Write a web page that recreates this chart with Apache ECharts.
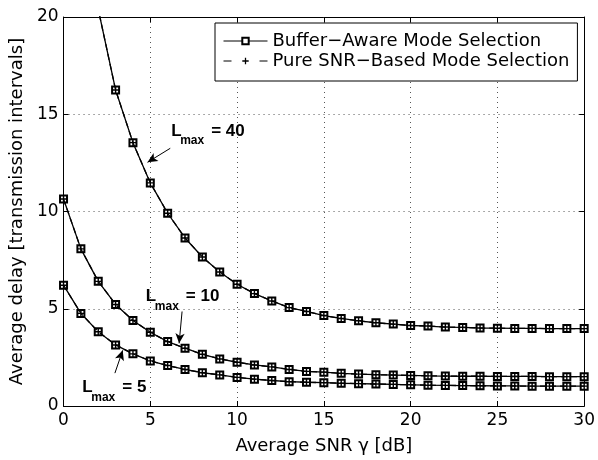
<!DOCTYPE html>
<html>
<head>
<meta charset="utf-8">
<script src="https://cdn.jsdelivr.net/npm/echarts@6/dist/echarts.min.js"></script>
<style>
  html, body { margin: 0; padding: 0; background: #fff; }
  #main { width: 598px; height: 460px; }
</style>
</head>
<body>
<div id="main"></div>
<script>
// average SNR in dB
var snr = [];
for (var i = 0; i <= 30; i++) snr.push(i);

// average delay (both schemes coincide)
var lmax40 = [38.0, 27.0, 20.4, 16.25, 13.54, 11.47, 9.91, 8.64, 7.66, 6.89, 6.26, 5.78, 5.40, 5.06, 4.86,
              4.65, 4.50, 4.38, 4.28, 4.21, 4.14, 4.11, 4.06, 4.04, 4.01, 4.00, 3.99, 3.99, 3.98, 3.98, 3.98];
var lmax10 = [10.64, 8.08, 6.41, 5.22, 4.40, 3.79, 3.31, 2.97, 2.66, 2.42, 2.25, 2.11, 2.01, 1.88, 1.78,
              1.74, 1.68, 1.64, 1.61, 1.59, 1.57, 1.55, 1.54, 1.53, 1.53, 1.52, 1.52, 1.52, 1.51, 1.51, 1.51];
var lmax5 = [6.21, 4.76, 3.82, 3.14, 2.68, 2.32, 2.08, 1.88, 1.71, 1.60, 1.47, 1.38, 1.31, 1.25, 1.22,
             1.20, 1.17, 1.15, 1.13, 1.11, 1.09, 1.07, 1.06, 1.05, 1.04, 1.03, 1.03, 1.02, 1.02, 1.02, 1.02];

var xTicks = [0, 5, 10, 15, 20, 25, 30];
var yTicks = [0, 5, 10, 15, 20];

var nameBuffer = 'Buffer\u2212Aware Mode Selection';
var nameSnr = 'Pure SNR\u2212Based Mode Selection';

// annotation: label anchor, arrow tail, arrow head (data coords)
var notes = [
    { text: '40', label: [6.2, 14.14], tail: [6.15, 13.25], head: [4.84, 12.53] },
    { text: '10', label: [4.74, 5.63], tail: [6.83, 4.86], head: [6.66, 3.22] },
    { text: '5',  label: [1.08, 0.95], tail: [2.96, 1.69], head: [3.41, 2.86] }
];

var curves = [lmax40, lmax10, lmax5];

var plusPath = 'path://M0,4L10,4L10,6L0,6Z M4,0L6,0L6,10L4,10Z';
var tickFont = 'DejaVu Sans';

function pairs(vals) {
    return snr.map(function (x, k) { return [x, vals[k]]; });
}

var series = [];
curves.forEach(function (vals, k) {
    series.push({
        name: nameBuffer,
        type: 'line',
        data: pairs(vals),
        symbol: 'emptyRect',
        symbolSize: 7,
        showAllSymbol: true,
        clip: true,
        lineStyle: { color: '#000', width: 1.3, type: 'solid' },
        itemStyle: { color: '#000', borderWidth: 1 },
        emphasis: { disabled: true },
        markLine: {
            silent: true,
            symbol: ['none', 'arrow'],
            symbolSize: [7, 10],
            label: { show: false },
            lineStyle: { color: '#000', width: 1, type: 'solid' },
            data: [[{ coord: notes[k].tail }, { coord: notes[k].head }]]
        },
        z: 2
    });
});
curves.forEach(function (vals) {
    series.push({
        name: nameSnr,
        type: 'line',
        data: pairs(vals),
        symbol: plusPath,
        symbolSize: 7,
        showAllSymbol: true,
        clip: true,
        lineStyle: { color: '#000', width: 1.3, type: [6, 4] },
        itemStyle: { color: '#000' },
        emphasis: { disabled: true },
        z: 3
    });
});

var chart = echarts.init(document.getElementById('main'));

var option = {
    animation: false,
    backgroundColor: '#fff',
    grid: { left: 60, right: 11, top: 17, bottom: 52, containLabel: false },
    legend: {
        orient: 'vertical',
        left: 215,
        top: 23,
        padding: [9, 8, 11, 8],
        itemGap: 2,
        itemWidth: 44,
        itemHeight: 8,
        backgroundColor: '#fff',
        borderColor: '#000',
        borderWidth: 1,
        borderRadius: 0,
        data: [
            { name: nameBuffer, lineStyle: { width: 1, type: 'solid' }, itemStyle: { borderWidth: 1 } },
            { name: nameSnr, lineStyle: { width: 1, type: [8, 28] } }
        ],
        textStyle: { fontFamily: tickFont, fontSize: 18, color: '#000' },
        selectedMode: false
    },
    xAxis: [{
        type: 'value',
        min: 0, max: 30, interval: 5,
        name: 'Average SNR \u03b3 [dB]',
        nameLocation: 'middle',
        nameGap: 31,
        nameTextStyle: { fontFamily: tickFont, fontSize: 18, color: '#000' },
        axisLine: { show: true, onZero: false, lineStyle: { color: '#000', width: 1 } },
        axisTick: { show: true, inside: true, length: 5, lineStyle: { color: '#000' } },
        axisLabel: {
            margin: 6, fontFamily: tickFont, fontSize: 17, color: '#000',
            formatter: function (v) { return xTicks.indexOf(v) >= 0 ? String(v) : ''; }
        },
        splitLine: { show: true, lineStyle: { color: '#555', width: 1, type: [1, 4] } }
    }, {
        type: 'value',
        position: 'top',
        min: 0, max: 30, interval: 5,
        axisLine: { show: true, onZero: false, lineStyle: { color: '#000', width: 1 } },
        axisTick: { show: true, inside: true, length: 5, lineStyle: { color: '#000' } },
        axisLabel: { show: false },
        splitLine: { show: false }
    }],
    yAxis: [{
        type: 'value',
        min: 0, max: 20, interval: 5,
        name: 'Average delay [transmission intervals]',
        nameLocation: 'middle',
        nameGap: 27,
        nameTextStyle: { fontFamily: tickFont, fontSize: 18, color: '#000' },
        axisLine: { show: true, onZero: false, lineStyle: { color: '#000', width: 1 } },
        axisTick: { show: true, inside: true, length: 5, lineStyle: { color: '#000' } },
        axisLabel: {
            margin: 5, fontFamily: tickFont, fontSize: 17, color: '#000',
            formatter: function (v) { return yTicks.indexOf(v) >= 0 ? String(v) : ''; }
        },
        splitLine: { show: true, lineStyle: { color: '#555', width: 1, type: [1, 4] } }
    }, {
        type: 'value',
        position: 'right',
        min: 0, max: 20, interval: 5,
        axisLine: { show: true, onZero: false, lineStyle: { color: '#000', width: 1 } },
        axisTick: { show: true, inside: true, length: 5, lineStyle: { color: '#000' } },
        axisLabel: { show: false },
        splitLine: { show: false }
    }],
    series: series
};

chart.setOption(option);

// L_max labels, placed through the grid's own scales
var labelFont = '"Liberation Sans", Arial, sans-serif';
var graphics = notes.map(function (n) {
    var p = chart.convertToPixel({ gridIndex: 0 }, n.label);
    return {
        type: 'group',
        x: p[0], y: p[1],
        silent: true,
        z: 10,
        children: [
            { type: 'text', x: 0, y: 0, style: { text: 'L', font: 'bold 17px ' + labelFont, fill: '#000', verticalAlign: 'middle' } },
            { type: 'text', x: 9, y: 10, style: { text: 'max', font: 'bold 12px ' + labelFont, fill: '#000', verticalAlign: 'middle' } },
            { type: 'text', x: 40, y: 0, style: { text: '= ' + n.text, font: 'bold 17px ' + labelFont, fill: '#000', verticalAlign: 'middle' } }
        ]
    };
});
chart.setOption({ graphic: graphics });
</script>
</body>
</html>
